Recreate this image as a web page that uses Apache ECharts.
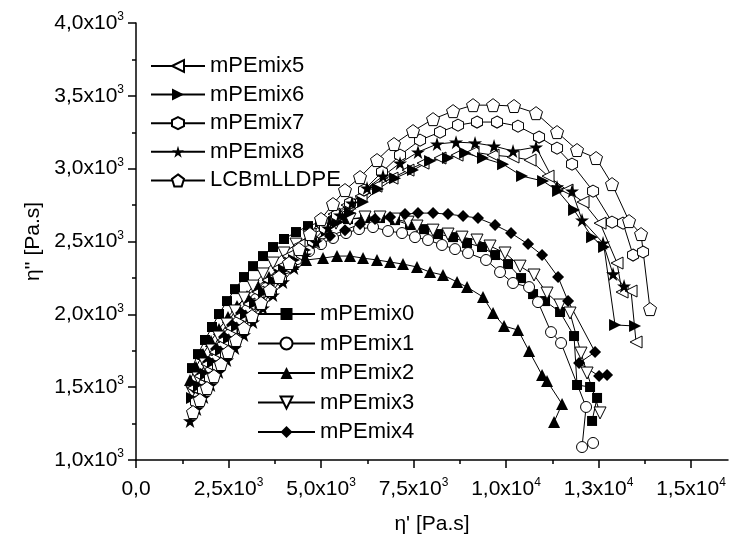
<!DOCTYPE html>
<html>
<head>
<meta charset="utf-8">
<script src="https://cdn.jsdelivr.net/npm/echarts@6/dist/echarts.min.js"></script>
<style>html,body{margin:0;padding:0;background:#fff}#c{width:730px;height:543px}</style>
</head>
<body>
<div id="c"></div>
<script>
// ---- data (eta' , eta'') ----
const mPEmix0 = [[1514,1631],[1676,1727],[1865,1824],[2054,1913],[2243,2002],[2460,2091],[2676,2173],[2919,2256],[3163,2331],[3433,2400],[3703,2462],[4000,2517],[4325,2565],[4649,2606],[4974,2633],[5325,2640],[5730,2654],[6190,2661],[6595,2661],[7001,2647],[7406,2613],[7785,2585],[8163,2551],[8569,2530],[8947,2489],[9352,2462],[9704,2407],[10055,2345],[10407,2249],[10731,2139],[11055,2091],[11461,2016],[11839,1851],[11920,1515],[12272,1501],[12461,1426],[12326,1268]];
const mPEmix1 = [[1568,1426],[1730,1515],[1919,1604],[2108,1693],[2325,1782],[2541,1865],[2757,1947],[3000,2029],[3244,2105],[3514,2180],[3784,2249],[4055,2318],[4352,2379],[4676,2434],[5001,2482],[5325,2524],[5676,2558],[6028,2585],[6406,2599],[6812,2572],[7190,2558],[7541,2530],[7893,2510],[8271,2476],[8623,2448],[8974,2421],[9461,2373],[9839,2290],[10190,2215],[10623,2187],[10866,2084],[11217,1878],[11488,1803],[12164,1364],[12055,1089],[12353,1117]];
const mPEmix2 = [[1460,1549],[1622,1638],[1811,1727],[2027,1817],[2243,1899],[2487,1981],[2730,2057],[3000,2126],[3298,2194],[3595,2256],[3919,2304],[4244,2345],[4595,2373],[5055,2386],[5433,2400],[5784,2400],[6136,2386],[6514,2373],[6866,2359],[7217,2345],[7595,2325],[7947,2290],[8298,2270],[8677,2222],[8947,2187],[9379,2119],[9650,2009],[9947,1920],[10325,1892],[10623,1748],[10974,1583],[11109,1542],[11515,1384],[11299,1261]];
const mPEmix3 = [[1514,1467],[1676,1563],[1865,1659],[2054,1755],[2243,1844],[2460,1933],[2676,2023],[2919,2112],[3163,2194],[3433,2277],[3703,2352],[4000,2421],[4325,2482],[4676,2537],[5028,2585],[5406,2626],[5784,2654],[6190,2668],[6595,2668],[7001,2654],[7352,2633],[7595,2606],[8028,2578],[8433,2551],[8812,2530],[9217,2510],[9569,2469],[9974,2421],[10380,2331],[10758,2270],[11109,2146],[11461,2064],[11731,2009],[12028,1734],[12191,1597],[12542,1323]];
const mPEmix4 = [[1568,1494],[1757,1583],[1946,1673],[2162,1762],[2379,1844],[2595,1927],[2838,2009],[3081,2084],[3325,2160],[3595,2235],[3865,2304],[4163,2373],[4460,2434],[4784,2489],[5244,2537],[5649,2578],[6055,2620],[6460,2654],[6866,2668],[7271,2688],[7622,2695],[8028,2695],[8433,2688],[8839,2675],[9244,2661],[9704,2613],[10136,2558],[10596,2482],[10974,2407],[11407,2256],[11677,2091],[12407,1741],[11974,1666],[12515,1576],[12731,1583]];
const mPEmix5 = [[1541,1494],[1730,1576],[1919,1659],[2135,1741],[2352,1824],[2568,1906],[2811,1988],[3054,2071],[3298,2153],[3568,2235],[3838,2318],[4109,2400],[4406,2476],[4703,2551],[5028,2620],[5352,2688],[5703,2750],[6082,2812],[6487,2880],[6920,2935],[7352,2990],[7758,3038],[8217,3073],[8677,3093],[9109,3114],[9650,3093],[10190,3080],[10650,3059],[11136,2949],[11650,2853],[12082,2771],[12542,2626],[13001,2352],[13137,2153],[13380,2160],[13515,1810]];
const mPEmix6 = [[1514,1426],[1703,1508],[1892,1590],[2081,1673],[2298,1755],[2514,1837],[2730,1920],[2973,2002],[3217,2078],[3460,2153],[3730,2228],[4000,2304],[4271,2373],[4568,2441],[4865,2510],[5163,2572],[5460,2633],[5784,2695],[6136,2771],[6541,2860],[7001,2935],[7487,2990],[7947,3052],[8433,3073],[8893,3107],[9379,3073],[9920,3031],[10434,2949],[11001,2915],[11407,2846],[11839,2716],[12326,2530],[12650,2462],[12947,1927],[13488,1920]];
const mPEmix7 = [[1622,1398],[1811,1480],[2000,1563],[2216,1645],[2433,1727],[2649,1810],[2892,1892],[3135,1975],[3379,2057],[3649,2146],[3919,2235],[4190,2325],[4487,2414],[4784,2503],[5109,2592],[5433,2681],[5784,2764],[6163,2853],[6649,2977],[7136,3093],[7677,3196],[8217,3251],[8704,3299],[9217,3320],[9758,3320],[10325,3292],[10893,3217],[11380,3141],[11785,3031],[12353,2846],[12866,2633],[13164,2626],[13434,2407],[13704,2428]];
const mPEmix8 = [[1460,1268],[1649,1350],[1838,1432],[2027,1515],[2243,1604],[2460,1686],[2676,1769],[2919,1858],[3163,1947],[3433,2043],[3703,2132],[3973,2222],[4271,2318],[4568,2407],[4865,2496],[5190,2592],[5514,2681],[5838,2764],[6244,2867],[6676,2949],[7136,3038],[7622,3114],[8136,3169],[8650,3182],[9163,3176],[9677,3155],[10190,3121],[10812,3148],[11380,2874],[11785,2846],[12055,2647],[12623,2489],[12893,2277],[13191,2194]];
const LCBmLLDPE = [[1541,1329],[1730,1412],[1919,1494],[2108,1576],[2298,1659],[2487,1741],[2703,1824],[2919,1906],[3135,1988],[3379,2078],[3622,2167],[3865,2256],[4136,2352],[4406,2448],[4703,2551],[5001,2654],[5325,2757],[5649,2853],[6055,2942],[6514,3059],[6974,3169],[7487,3258],[8028,3340],[8569,3395],[9109,3436],[9650,3436],[10217,3430],[10812,3381],[11380,3251],[11920,3128],[12434,3073],[12866,2894],[13326,2640],[13650,2551],[13893,2036]];

const xTickValues = [0, 2500, 5000, 7500, 10000, 12500, 15000];
const xTickLabels = ['0,0', '2,5x10^3', '5,0x10^3', '7,5x10^3', '1,0x10^4', '1,3x10^4', '1,5x10^4'];
const xMinorTicks = [1250, 3750, 6250, 8750, 11250, 13750];
const yTickValues = [1000, 1500, 2000, 2500, 3000, 3500, 4000];
const yTickLabels = ['1,0x10^3', '1,5x10^3', '2,0x10^3', '2,5x10^3', '3,0x10^3', '3,5x10^3', '4,0x10^3'];
const legendTop = ['mPEmix5', 'mPEmix6', 'mPEmix7', 'mPEmix8', 'LCBmLLDPE'];
const legendBottom = ['mPEmix0', 'mPEmix1', 'mPEmix2', 'mPEmix3', 'mPEmix4'];

const FONT = 'Liberation Sans';
const SYM = {
  rect: 'rect', circle: 'circle', tri: 'triangle', diamond: 'diamond',
  down: 'path://M0,0L100,0L50,100Z',
  left: 'path://M0,50L100,0L100,100Z',
  right: 'path://M100,50L0,0L0,100Z',
  hex: 'path://M50,0L93.3,25L93.3,75L50,100L6.7,75L6.7,25Z',
  star: 'path://M50,0L61.2,34.6L97.6,34.5L68.1,55.9L79.4,90.5L50,69L20.6,90.5L31.9,55.9L2.4,34.5L38.8,34.6Z',
  pent: 'path://M50,0L97.6,34.5L79.4,90.5L20.6,90.5L2.4,34.5Z'
};

function makeFmt(values, labels) {
  return function (v) {
    const i = values.findIndex(t => Math.abs(t - v) < 1e-6);
    if (i < 0) return '';
    const parts = labels[i].split('^');
    return parts.length > 1 ? '{m|' + parts[0] + '}{e|' + parts[1] + '}' : '{m|' + parts[0] + '}';
  };
}
const rich = {
  m: { fontSize: 21, fontFamily: FONT, color: '#000', lineHeight: 24 },
  e: { fontSize: 12, fontFamily: FONT, color: '#000', lineHeight: 12, verticalAlign: 'top' }
};

function ser(name, data, symbol, size, filled) {
  return {
    name: name, type: 'line', data: data, symbol: symbol, symbolSize: size,
    xAxisIndex: 0, yAxisIndex: 0,
    lineStyle: { color: '#000', width: 1 },
    itemStyle: filled ? { color: '#000', borderColor: '#000', borderWidth: 0 } : { color: '#fff', borderColor: '#000', borderWidth: 1 },
    emphasis: { disabled: true },
    animation: false
  };
}

const chart = echarts.init(document.getElementById('c'), null, { renderer: 'canvas' });
const legendCommon = {
  orient: 'vertical', itemWidth: 54, itemHeight: 15, selectedMode: false,
  textStyle: { fontSize: 22, fontFamily: FONT, color: '#000', lineHeight: 18 }
};
chart.setOption({
  animation: false,
  textStyle: { fontFamily: FONT },
  grid: { left: 136, right: 2, top: 23, bottom: 83, containLabel: false },
  legend: [
    Object.assign({}, legendCommon, { data: legendTop, left: 145, top: 50, itemGap: 6.6 }),
    Object.assign({}, legendCommon, { data: legendBottom, left: 252, top: 298, itemGap: 7.5, itemWidth: 57 })
  ],
  xAxis: [{
    type: 'value', min: 0, max: 16000, interval: 2500, position: 'bottom',
    name: "η' [Pa.s]", nameLocation: 'middle', nameGap: 54,
    nameTextStyle: { fontSize: 21, fontFamily: FONT, color: '#000' },
    axisLine: { lineStyle: { color: '#000', width: 1.5 } },
    axisTick: { length: 8, lineStyle: { color: '#000', width: 1.5 }, customValues: xTickValues },
    axisLabel: { margin: 17, formatter: makeFmt(xTickValues, xTickLabels), rich: rich, customValues: xTickValues },
    splitLine: { show: false }
  }, {
    type: 'value', min: 0, max: 16000, position: 'bottom',
    axisLine: { show: false },
    axisTick: { length: 4, lineStyle: { color: '#000', width: 1.5 }, customValues: xMinorTicks },
    axisLabel: { show: false },
    splitLine: { show: false }
  }],
  yAxis: {
    type: 'value', min: 1000, max: 4000, interval: 500,
    name: "η'' [Pa.s]", nameLocation: 'middle', nameGap: 80,
    nameTextStyle: { fontSize: 21, fontFamily: FONT, color: '#000' },
    axisLine: { show: true, lineStyle: { color: '#000', width: 1.5 } },
    axisTick: { show: true, length: 8, lineStyle: { color: '#000', width: 1.5 } },
    minorTick: { show: true, splitNumber: 2, length: 4, lineStyle: { color: '#000', width: 1.5 } },
    axisLabel: { margin: 12, formatter: makeFmt(yTickValues, yTickLabels), rich: rich },
    splitLine: { show: false }
  },
  series: [
    ser('mPEmix0', mPEmix0, SYM.rect, 10, true),
    ser('mPEmix1', mPEmix1, SYM.circle, 11, false),
    ser('mPEmix2', mPEmix2, SYM.tri, 12, true),
    ser('mPEmix3', mPEmix3, SYM.down, 12, false),
    ser('mPEmix4', mPEmix4, SYM.diamond, 12, true),
    ser('mPEmix5', mPEmix5, SYM.left, 12, false),
    ser('mPEmix6', mPEmix6, SYM.right, 12, true),
    ser('mPEmix7', mPEmix7, SYM.hex, [11, 12], false),
    ser('mPEmix8', mPEmix8, SYM.star, 14, true),
    ser('LCBmLLDPE', LCBmLLDPE, SYM.pent, 13, false)
  ]
});
</script>
</body>
</html>
